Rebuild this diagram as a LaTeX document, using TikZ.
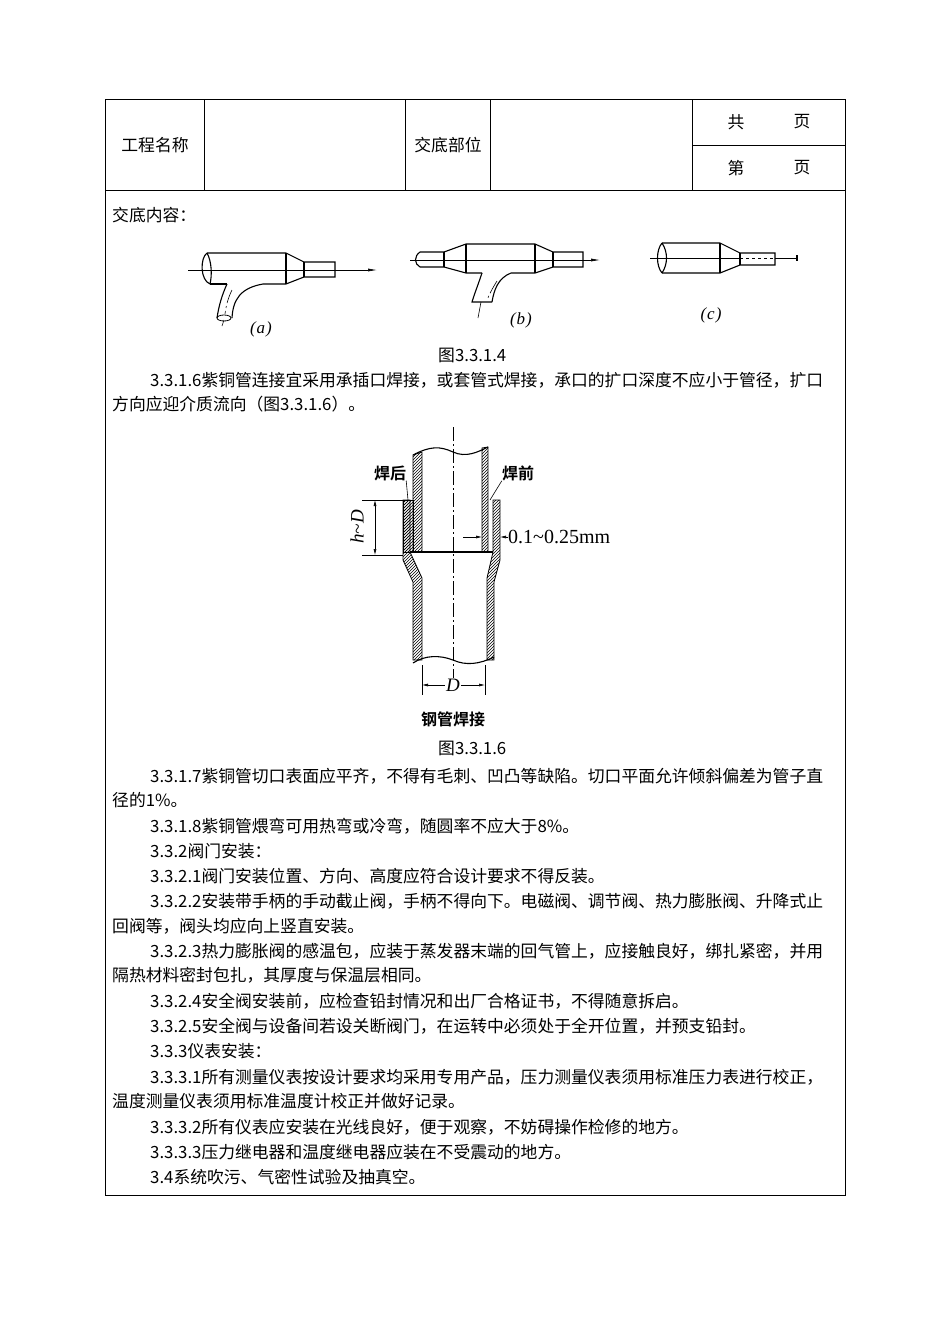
\documentclass[tikz,border=0pt]{standalone}
\usepackage{fontspec}
\setmainfont{Noto Sans CJK SC}
\newfontfamily\cjkb{Noto Sans CJK SC Bold}
\newfontfamily\serifnum{Liberation Serif}
\usetikzlibrary{patterns,arrows.meta}
\XeTeXlinebreaklocale "zh"
\XeTeXlinebreakskip=0pt plus 3pt
\tikzset{
 txt/.style={anchor=base west,inner sep=0pt,font=\fontsize{16.8}{20}\selectfont},
 jtxt/.style={txt,text width=683pt,align=justify},
 cell/.style={inner sep=0pt,font=\fontsize{16.8}{20}\selectfont},
 pipe/.style={line width=1.1pt},
 axisl/.style={line width=0.6pt,dash pattern=on 14pt off 3pt on 2pt off 3pt},
 hat/.style={pattern=north east lines,draw,line width=0.8pt},
 dim/.style={line width=0.6pt},
 flab/.style={inner sep=0pt,font=\serifnum\itshape\fontsize{17}{18}\selectfont},
}
\begin{document}
\begin{tikzpicture}[x=1pt,y=-1pt]
\useasboundingbox[fill=white] (0,0) rectangle (950,1344);
% table
\draw[line width=0.8pt] (105,99) rectangle (845,1195);
\draw[line width=0.8pt] (105,190)--(845,190);
\foreach \xx in {204,405,490,692}{\draw[line width=0.8pt] (\xx,99)--(\xx,190);}
\draw[line width=0.8pt] (692,145)--(845,145);
\node[cell] (c1) at (155,145) {工程名称};
\node[cell] (c2) at (448,145) {交底部位};
\node[cell] (c3) at (736,122) {共};
\node[cell] (c4) at (802,122) {页};
\node[cell] (c5) at (736,168) {第};
\node[cell] (c6) at (802,168) {页};
% texts
\node[txt] (t0) at (112,221) {交底内容：};
\node[txt] (cap1) at (438,361) {图3.3.1.4};
\node[jtxt] (p1a) at (150,386) {\parfillskip=0pt 3.3.1.6紫铜管连接宜采用承插口焊接，或套管式焊接，承口的扩口深度不应小于管径，扩口};
\node[txt] (p1b) at (112,410) {方向应迎介质流向（图3.3.1.6）。};
\node[txt] (cap2) at (438,754) {图3.3.1.6};
\node[jtxt] (p2a) at (150,782) {\parfillskip=0pt 3.3.1.7紫铜管切口表面应平齐，不得有毛刺、凹凸等缺陷。切口平面允许倾斜偏差为管子直};
\node[txt] (p2b) at (112,806) {径的1\%。};
\node[txt] (p3) at (150,832) {3.3.1.8紫铜管煨弯可用热弯或冷弯，随圆率不应大于8\%。};
\node[txt] (p4) at (150,857) {3.3.2阀门安装：};
\node[txt] (p5) at (150,882) {3.3.2.1阀门安装位置、方向、高度应符合设计要求不得反装。};
\node[jtxt] (p6a) at (150,907) {\parfillskip=0pt 3.3.2.2安装带手柄的手动截止阀，手柄不得向下。电磁阀、调节阀、热力膨胀阀、升降式止};
\node[txt] (p6b) at (112,932) {回阀等，阀头均应向上竖直安装。};
\node[jtxt] (p7a) at (150,957) {\parfillskip=0pt 3.3.2.3热力膨胀阀的感温包，应装于蒸发器末端的回气管上，应接触良好，绑扎紧密，并用};
\node[txt] (p7b) at (112,981) {隔热材料密封包扎，其厚度与保温层相同。};
\node[txt] (p8) at (150,1007) {3.3.2.4安全阀安装前，应检查铅封情况和出厂合格证书，不得随意拆启。};
\node[txt] (p9) at (150,1032) {3.3.2.5安全阀与设备间若设关断阀门，在运转中必须处于全开位置，并预支铅封。};
\node[txt] (p10) at (150,1057) {3.3.3仪表安装：};
\node[jtxt] (p11a) at (150,1083) {\parfillskip=0pt 3.3.3.1所有测量仪表按设计要求均采用专用产品，压力测量仪表须用标准压力表进行校正，};
\node[txt] (p11b) at (112,1107) {温度测量仪表须用标准温度计校正并做好记录。};
\node[txt] (p12) at (150,1133) {3.3.3.2所有仪表应安装在光线良好，便于观察，不妨碍操作检修的地方。};
\node[txt] (p13) at (150,1158) {3.3.3.3压力继电器和温度继电器应装在不受震动的地方。};
\node[txt] (p14) at (150,1183) {3.4系统吹污、气密性试验及抽真空。};
% ---- fig (a)
\draw[pipe] (207,253)--(286,253)--(304,262)--(335,262)--(335,277)--(304,277)--(286,284)--(263,284)
  .. controls (240,288) and (233,300) .. (232,318);
\draw[pipe] (210,284)--(227,284);
\draw[pipe] (227,284) .. controls (222,295) and (219,305) .. (217,318);
\draw[pipe] (207,253) .. controls (200,258) and (200,280) .. (210,284);
\draw[pipe] (207,253) .. controls (212,262) and (212,276) .. (210,284);
\draw[pipe] (286,253)--(286,284) (304,262)--(304,277);
\draw[line width=0.8pt] (224,318) ellipse (7 and 3);
\draw[line width=0.6pt] (224,320)--(222,326);
\draw[axisl] (232,290) .. controls (228,298) and (226,306) .. (225,314);
\draw[line width=0.6pt,-{Latex[length=9pt,width=3pt]}] (188,270)--(377,270);
\node[flab] (la) at (261,329) {(\kern1pt a\kern1pt)};
% ---- fig (b)
\draw[pipe] (420,252)--(444,252)--(466,244)--(535,244)--(553,252)--(583,252)--(583,267)--(553,267)--(535,273)--(511,273)
  .. controls (498,278) and (494,290) .. (492,302);
\draw[pipe] (420,252) .. controls (414,256) and (414,264) .. (420,267);
\draw[pipe] (420,267)--(444,267)--(466,273)--(482,273);
\draw[pipe] (444,252)--(444,267) (553,252)--(553,267) (466,244)--(466,273) (535,244)--(535,273);
\draw[pipe] (482,273) .. controls (478,285) and (474,295) .. (472,302)--(492,302);
\draw[line width=0.6pt] (481,302)--(478,318);
\draw[axisl] (497,281) .. controls (492,289) and (489,295) .. (487,300);
\draw[line width=0.6pt,-{Latex[length=9pt,width=3pt]}] (410,260)--(600,260);
\node[flab] (lb) at (521,320) {(\kern1pt b\kern1pt)};
% ---- fig (c)
\draw[pipe] (662,243)--(720,243)--(740,253)--(775,253)--(775,265)--(740,265)--(720,273)--(662,273);
\draw[pipe] (662,243) .. controls (656,250) and (656,266) .. (662,273);
\draw[pipe] (662,243) .. controls (668,252) and (668,264) .. (662,273);
\draw[pipe] (720,243)--(720,273) (740,253)--(740,265);
\draw[line width=0.6pt] (650,258)--(740,258);
\draw[line width=0.6pt,dashed] (740,258)--(775,258);
\draw[line width=0.6pt] (775,258)--(797,258);
\draw[line width=1.5pt] (797,255)--(797,261);
\node[flab] (lc) at (711,315) {(\kern1pt c\kern1pt)};
% ---- fig 3.3.1.6
\draw[hat] (413,455)--(422,452)--(422,552)--(413,552)--cycle;
\draw[hat] (482,448)--(488,447)--(488,552)--(482,552)--cycle;
\draw[pipe] (413,455) .. controls (430,446) and (440,446) .. (453,452) .. controls (466,458) and (478,452) .. (488,447);
\draw[hat] (403,500)--(413,500)--(413,552)--(403,552)--cycle;
\draw[hat] (403,500)--(410,500)--(410,552)--(422,578)--(422,660)--(413,660)--(413,582)--(403,560)--cycle;
\draw[hat] (493,500)--(500,500)--(500,560)--(494,582)--(494,660)--(487,660)--(487,578)--(493,552)--cycle;
\draw[pipe] (410,552)--(493,552);
\draw[pipe] (413,663) .. controls (425,655) and (440,655) .. (453,660) .. controls (466,666) and (480,664) .. (494,657);
\draw[axisl] (453,427)--(453,683);
\node[inner sep=0pt,font=\cjkb\fontsize{16}{18}\selectfont] (hh) at (390,473) {焊后};
\node[inner sep=0pt,font=\cjkb\fontsize{16}{18}\selectfont] (hq) at (518,473) {焊前};
\draw[dim] (hh.south east)--(408,500);
\draw[dim] (hq.south west)--(490,500);
\draw[dim] (362,500)--(403,500) (362,555)--(403,555);
\draw[dim,{Latex[length=6pt,width=3pt]}-{Latex[length=6pt,width=3pt]}] (375,500)--(375,555);
\node[inner sep=0pt,rotate=90,font=\serifnum\itshape\fontsize{19}{20}\selectfont] (hd) at (357,527) {h\textasciitilde D};
\node[anchor=west,inner sep=0pt,font=\serifnum\fontsize{20}{20}\selectfont] (gap) at (508,537) {0.1\textasciitilde 0.25mm};
\draw[dim,-{Latex[length=6pt,width=3pt]}] (463,537)--(482,537);
\draw[dim,-{Latex[length=6pt,width=3pt]}] (gap.west)--(500,537);
\draw[dim] (422,665)--(422,695) (485,665)--(485,695);
\node[inner sep=1pt,fill=white,font=\serifnum\itshape\fontsize{19}{20}\selectfont] (dd) at (453,685) {D};
\draw[dim,-{Latex[length=6pt,width=3pt]}] (dd.west)--(422,685);
\draw[dim,-{Latex[length=6pt,width=3pt]}] (dd.east)--(485,685);
\node[inner sep=0pt,font=\cjkb\fontsize{16}{18}\selectfont] (gc) at (453,719) {钢管焊接};
\end{tikzpicture}
\end{document}
